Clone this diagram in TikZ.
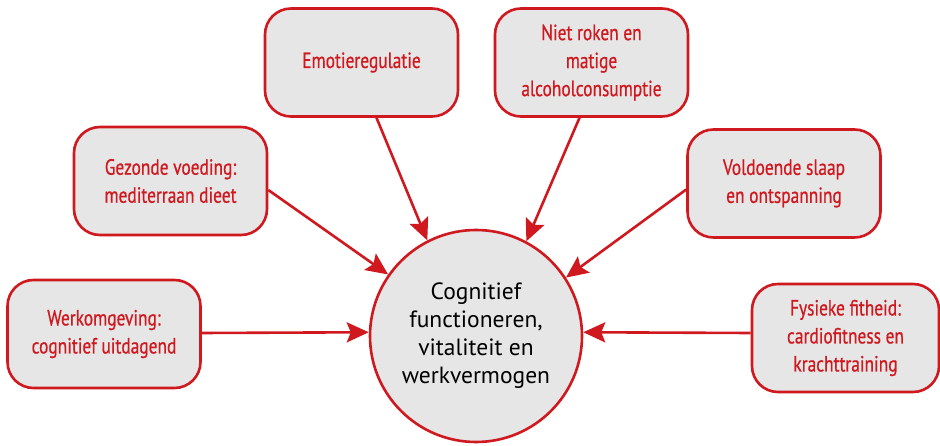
\documentclass[tikz,border=0pt]{standalone}
\usepackage{fontspec}
\setmainfont{PT Sans}
\newfontfamily\narrowfont[FakeStretch=0.79, FakeBold=0.6]{PT Sans}
\usetikzlibrary{arrows.meta}
\definecolor{accent}{HTML}{D0181F}
\definecolor{panel}{HTML}{E6E6E6}
\tikzset{
  factor/.style={draw=accent, fill=panel, line width=2.6pt, rounded corners=26pt,
    minimum width=193pt, minimum height=108pt, align=center, text=accent,
    font=\narrowfont\fontsize{22}{28}\selectfont, inner sep=0pt},
  core/.style={draw=accent, fill=panel, line width=2.6pt, circle, minimum size=212pt,
    align=center, text=black, font=\fontsize{23.5}{28}\selectfont, inner sep=0pt},
  link/.style={draw=accent, line width=2.6pt,
    -{Stealth[length=22pt, width=20pt, inset=4pt]}},
}
\begin{document}
\begin{tikzpicture}[x=1pt, y=-1pt]
\useasboundingbox (0,0) rectangle (940,446);

\node[core] (c) at (476,336) {Cognitief\\functioneren,\\vitaliteit en\\werkvermogen};

\node[factor] (emo)  at (361.5,62.5) {Emotieregulatie};
\node[factor] (niet) at (591.5,62.5) {Niet roken en\\matige\\alcoholconsumptie};
\node[factor] (voed) at (170.5,181)  {Gezonde voeding:\\mediterraan dieet};
\node[factor] (slaap) at (784,183.5) {Voldoende slaap\\en ontspanning};
\node[factor] (werk) at (104,334)    {Werkomgeving:\\cognitief uitdagend};
\node[factor, minimum width=187pt] (fys) at (845.5,338) {Fysieke fitheid:\\cardiofitness en\\krachttraining};

\draw[link] ([xshift=15pt]emo.south) -- (c.117);
\draw[link] ([xshift=-12pt]niet.south) -- (c.62);
\draw[link] ([yshift=-9pt]voed.east) -- (c.145);
\draw[link] ([yshift=-6pt]slaap.west) -- (c.33);
\draw[link] ([yshift=1pt]werk.east) -- (c.178);
\draw[link] ([yshift=5pt]fys.west) -- (c.2);
\end{tikzpicture}
\end{document}
